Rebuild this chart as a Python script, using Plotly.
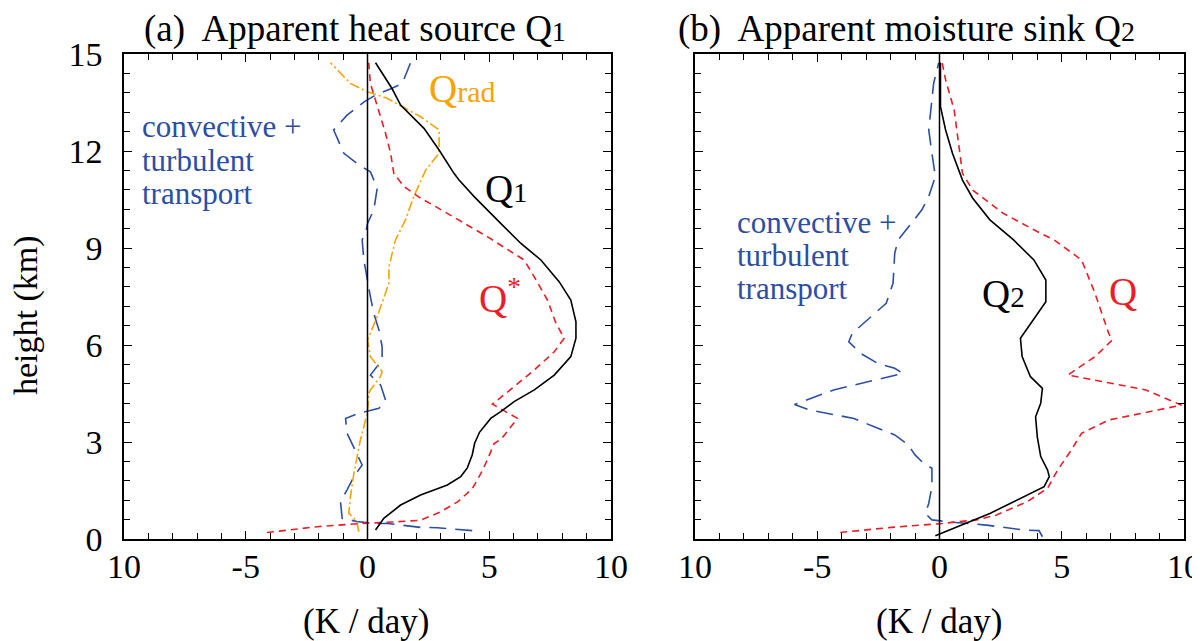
import plotly.graph_objects as go

# (a) heat source profiles, x in K/day, z in km
q1_x = [0.33, 0.67, 1.36, 2.18, 3.28, 3.83, 4.1, 4.3, 4.4, 4.6, 5.06, 5.47, 6.02, 6.85, 7.67, 8.35,
        8.56, 8.56, 8.35, 7.87, 7.12, 6.30, 5.47, 4.38, 3.76, 3.55, 2.94, 2.32, 1.36, 1.0, 0.33]
q1_z = [0.28, 0.64, 1.05, 1.36, 1.67, 1.93, 2.2, 2.6, 2.96, 3.3, 3.73, 3.94, 4.25, 4.61, 5.07, 5.64,
        6.21, 6.72, 7.39, 7.96, 8.63, 9.14, 9.76, 10.59, 11.1, 11.31, 12.03, 12.7, 13.42, 13.94, 14.73]

qstar_x = [-4.13, -2.07, -0.29, 0.4, 1.15, 2.18, 3.0, 3.7, 4.3, 4.65, 4.92, 5.2, 5.5, 6.16, 5.13,
           6.02, 6.85, 7.67, 8.08, 7.74, 7.39, 6.85, 6.43, 4.92, 3.42, 2.8, 2.18, 1.5, 1.08, 0.95,
           0.74, 0.4, 0.26, 0.12, 0.05]
qstar_z = [0.2, 0.38, 0.48, 0.5, 0.53, 0.58, 0.84, 1.15, 1.55, 2.02, 2.44, 2.95, 3.1, 3.73, 4.17,
           4.71, 5.23, 5.79, 6.21, 6.67, 7.39, 8.11, 8.63, 9.35, 10.02, 10.28, 10.54, 10.9, 11.31, 11.93,
           12.55, 13.37, 13.68, 14.09, 14.73]

qrad_x = [-0.36, -0.43, -0.77, -0.7, -0.56, -0.43, -0.29, -0.08, 0.0, 0.05, 0.12, 0.53, 0.6, 0.12,
          0.0, 0.4, 0.88, 0.88, 1.15, 1.56, 1.77, 1.9, 2.39, 2.94, 2.94, 2.18, 0.81, 0.0, -0.7, -1.52]
qrad_z = [0.23, 0.54, 0.8, 1.31, 2.03, 2.55, 3.07, 3.68, 3.89, 4.5, 4.61, 5.02, 5.18, 5.64,
          6.15, 6.88, 7.91, 8.42, 9.25, 9.87, 10.28, 10.59, 11.41, 11.93, 12.65, 13.06, 13.63, 13.83, 14.09, 14.73]

ct1_x = [4.3, 2.87, 2.18, 1.63, 0.81, 0.26, -0.43, -1.04, -1.11, -0.84, -0.56, -0.22, -0.56, -0.84,
         -0.9, -0.36, 0.47, 0.74, 0.54, 0.12, 0.6, 0.6, 0.47, 0.26, 0.12, 0.0, -0.15, -0.22, -0.08,
         0.0, 0.26, 0.4, 0.12, -0.36, -0.97, -1.39, -0.84, -0.14, 0.33, 1.01, 1.43, 1.77]
ct1_z = [0.26, 0.35, 0.36, 0.41, 0.48, 0.48, 0.54, 0.64, 1.16, 1.52, 1.93, 2.29, 2.8, 3.27,
         3.73, 3.89, 4.04, 4.3, 4.76, 5.07, 5.54, 5.95, 6.46, 6.98, 7.49, 8.01, 8.63, 9.25, 9.45,
         9.76, 10.18, 10.85, 11.36, 11.57, 11.93, 12.65, 13.11, 13.52, 13.73, 13.94, 14.09, 14.73]

# (b) moisture sink profiles
q2_x = [-0.17, 1.08, 2.06, 2.89, 3.58, 4.28, 4.49, 4.42, 4.14, 4.0, 3.93, 4.14, 4.21, 3.72, 3.38,
        3.31, 3.93, 4.35, 4.35, 3.86, 3.03, 2.06, 1.36, 0.94, 0.53, 0.25, 0.04, 0.04]
q2_z = [0.1, 0.48, 0.79, 1.1, 1.36, 1.62, 1.93, 2.13, 2.55, 3.16, 3.78, 4.2, 4.66, 5.02, 5.64,
        6.21, 6.88, 7.34, 8.01, 8.63, 9.25, 9.87, 10.54, 11.1, 11.93, 12.65, 13.37, 14.73]

q_x = [-4.06, -1.97, 0.11, 1.5, 2.33, 3.58, 4.42, 4.83, 5.39, 5.81, 6.92, 9.9, 8.44, 5.25, 6.36,
       7.06, 6.92, 6.36, 5.81, 4.69, 4.14, 2.61, 1.36, 0.94, 0.6, 0.25, 0.11]
q_z = [0.2, 0.36, 0.48, 0.59, 0.74, 1.15, 1.57, 2.13, 2.75, 3.27, 3.68, 4.14, 4.61, 5.07, 5.64,
       6.15, 6.36, 7.6, 8.63, 9.25, 9.45, 10.07, 10.79, 11.31, 13.27, 14.2, 14.73]

ct2_x = [4.21, 4.07, 3.44, 1.92, 0.53, -0.31, -0.58, -0.44, -0.31, -0.31, -0.65, -1.0, -1.28, -1.83,
         -2.67, -3.5, -5.31, -5.93, -4.33, -3.5, -2.25, -1.49, -1.83, -2.53, -3.22, -3.71, -3.57,
         -2.67, -2.18, -1.9, -1.83, -1.69, -1.21, -0.72, -0.44, -0.17, -0.31, -0.44, -0.24, -0.03]
ct2_z = [0.07, 0.26, 0.28, 0.43, 0.52, 0.59, 0.79, 1.1, 1.62, 2.19, 2.34, 2.6, 2.91, 3.22,
         3.47, 3.73, 3.99, 4.16, 4.61, 4.76, 4.97, 5.12, 5.28, 5.43, 5.74, 6.1, 6.36,
         6.98, 7.29, 7.91, 8.84, 9.25, 9.71, 10.18, 10.59, 11.21, 11.93, 12.65, 14.09, 14.73]

xtick_vals = [-10, -5, 0, 5, 10]
xtick_text = ["10", "-5", "0", "5", "10"]
ytick_vals = [0, 3, 6, 9, 12, 15]

BLUE = "#2c4ea3"
RED = "#ee1c25"
ORANGE = "#f7a400"
SERIF = "Liberation Serif"
W, H = 1200, 641
OFF = 8  # page body margin shifts the whole figure right/down

def px(x):
    return (x - OFF) / W

def py(y):
    return 1 - (y - OFF) / H

fig = go.Figure()

def add(x, z, color, dash, xa, ya, width=1.6):
    fig.add_trace(go.Scatter(x=x, y=z, mode="lines", xaxis=xa, yaxis=ya,
                             line=dict(color=color, width=width, dash=dash),
                             showlegend=False, hoverinfo="skip"))

add(ct1_x, ct1_z, BLUE, "17px,9px", "x", "y")
add(qrad_x, qrad_z, ORANGE, "10px,3px,2px,3px", "x", "y")
add(qstar_x, qstar_z, RED, "7px,5px", "x", "y")
add(q1_x, q1_z, "black", "solid", "x", "y")

add(ct2_x, ct2_z, BLUE, "17px,9px", "x2", "y2")
add(q_x, q_z, RED, "7px,5px", "x2", "y2")
add(q2_x, q2_z, "black", "solid", "x2", "y2")

xcommon = dict(range=[-10, 10], tickvals=xtick_vals, ticktext=xtick_text,
               ticks="inside", ticklen=8, tickwidth=1.4, tickcolor="black",
               minor=dict(ticks="inside", dtick=1, ticklen=6, tickwidth=1.4, tickcolor="black"),
               showline=True, linecolor="black", linewidth=1.6, mirror="ticks",
               showgrid=False, zeroline=False, ticklabelstandoff=-4, automargin=False,
               tickfont=dict(family=SERIF, size=34, color="black"))
ycommon = dict(range=[0, 15], tickvals=ytick_vals,
               ticks="inside", ticklen=8, tickwidth=1.4, tickcolor="black",
               minor=dict(ticks="inside", dtick=0.6, ticklen=6, tickwidth=1.4, tickcolor="black"),
               showline=True, linecolor="black", linewidth=1.6, mirror="ticks",
               showgrid=False, zeroline=False, ticklabelstandoff=13, automargin=False,
               tickfont=dict(family=SERIF, size=34, color="black"))

ydom = [py(539), py(54)]
fig.update_layout(
    width=W, height=H, margin=dict(l=0, r=0, t=0, b=0, autoexpand=False),
    paper_bgcolor="white", plot_bgcolor="white",
    xaxis=dict(xcommon, domain=[px(124), px(611)], anchor="y"),
    yaxis=dict(ycommon, domain=ydom, anchor="x"),
    xaxis2=dict(xcommon, domain=[px(695), px(1184)], anchor="y2"),
    yaxis2=dict(ycommon, domain=ydom, anchor="x2", showticklabels=False),
)

# zero lines
for xr, yr in [("x", "y"), ("x2", "y2")]:
    fig.add_shape(type="line", xref=xr, yref=yr, x0=0, x1=0, y0=0, y1=15,
                  line=dict(color="black", width=1.5))

def note(text, x, y, color="black", size=30, xanchor="left", angle=0):
    fig.add_annotation(text=text, x=px(x), y=py(y), xref="paper", yref="paper",
                       xanchor=xanchor, yanchor="middle", showarrow=False, textangle=angle,
                       borderpad=0, font=dict(family=SERIF, size=size, color=color))

SP = "\u00a0"
note(f'(a){SP} Apparent heat source Q<span style="font-size:28px">1</span>', 143, 29, size=37)
note(f'(b){SP} Apparent moisture sink Q<span style="font-size:28px">2</span>', 677, 29, size=37)
note("height (km)", 26, 315, size=34, xanchor="center", angle=-90)
note("(K / day)", 366, 621, size=35, xanchor="center")
note("(K / day)", 939, 621, size=35, xanchor="center")

for i, line in enumerate(["convective +", "turbulent", "transport"]):
    note(line, 141, 127 + 33 * i, color=BLUE, size=31)
    note(line, 736, 222 + 33 * i, color=BLUE, size=31)

note('Q<span style="font-size:30px">rad</span>', 428, 88, color=ORANGE, size=39)
note('Q<span style="font-size:28px">1</span>', 484, 188, size=39)
note('Q<sup>*</sup>', 478, 296, color=RED, size=39)
note('Q<span style="font-size:29px">2</span>', 981, 293, size=39)
note('Q', 1108, 292, color=RED, size=39)

fig.write_html("out.html")
